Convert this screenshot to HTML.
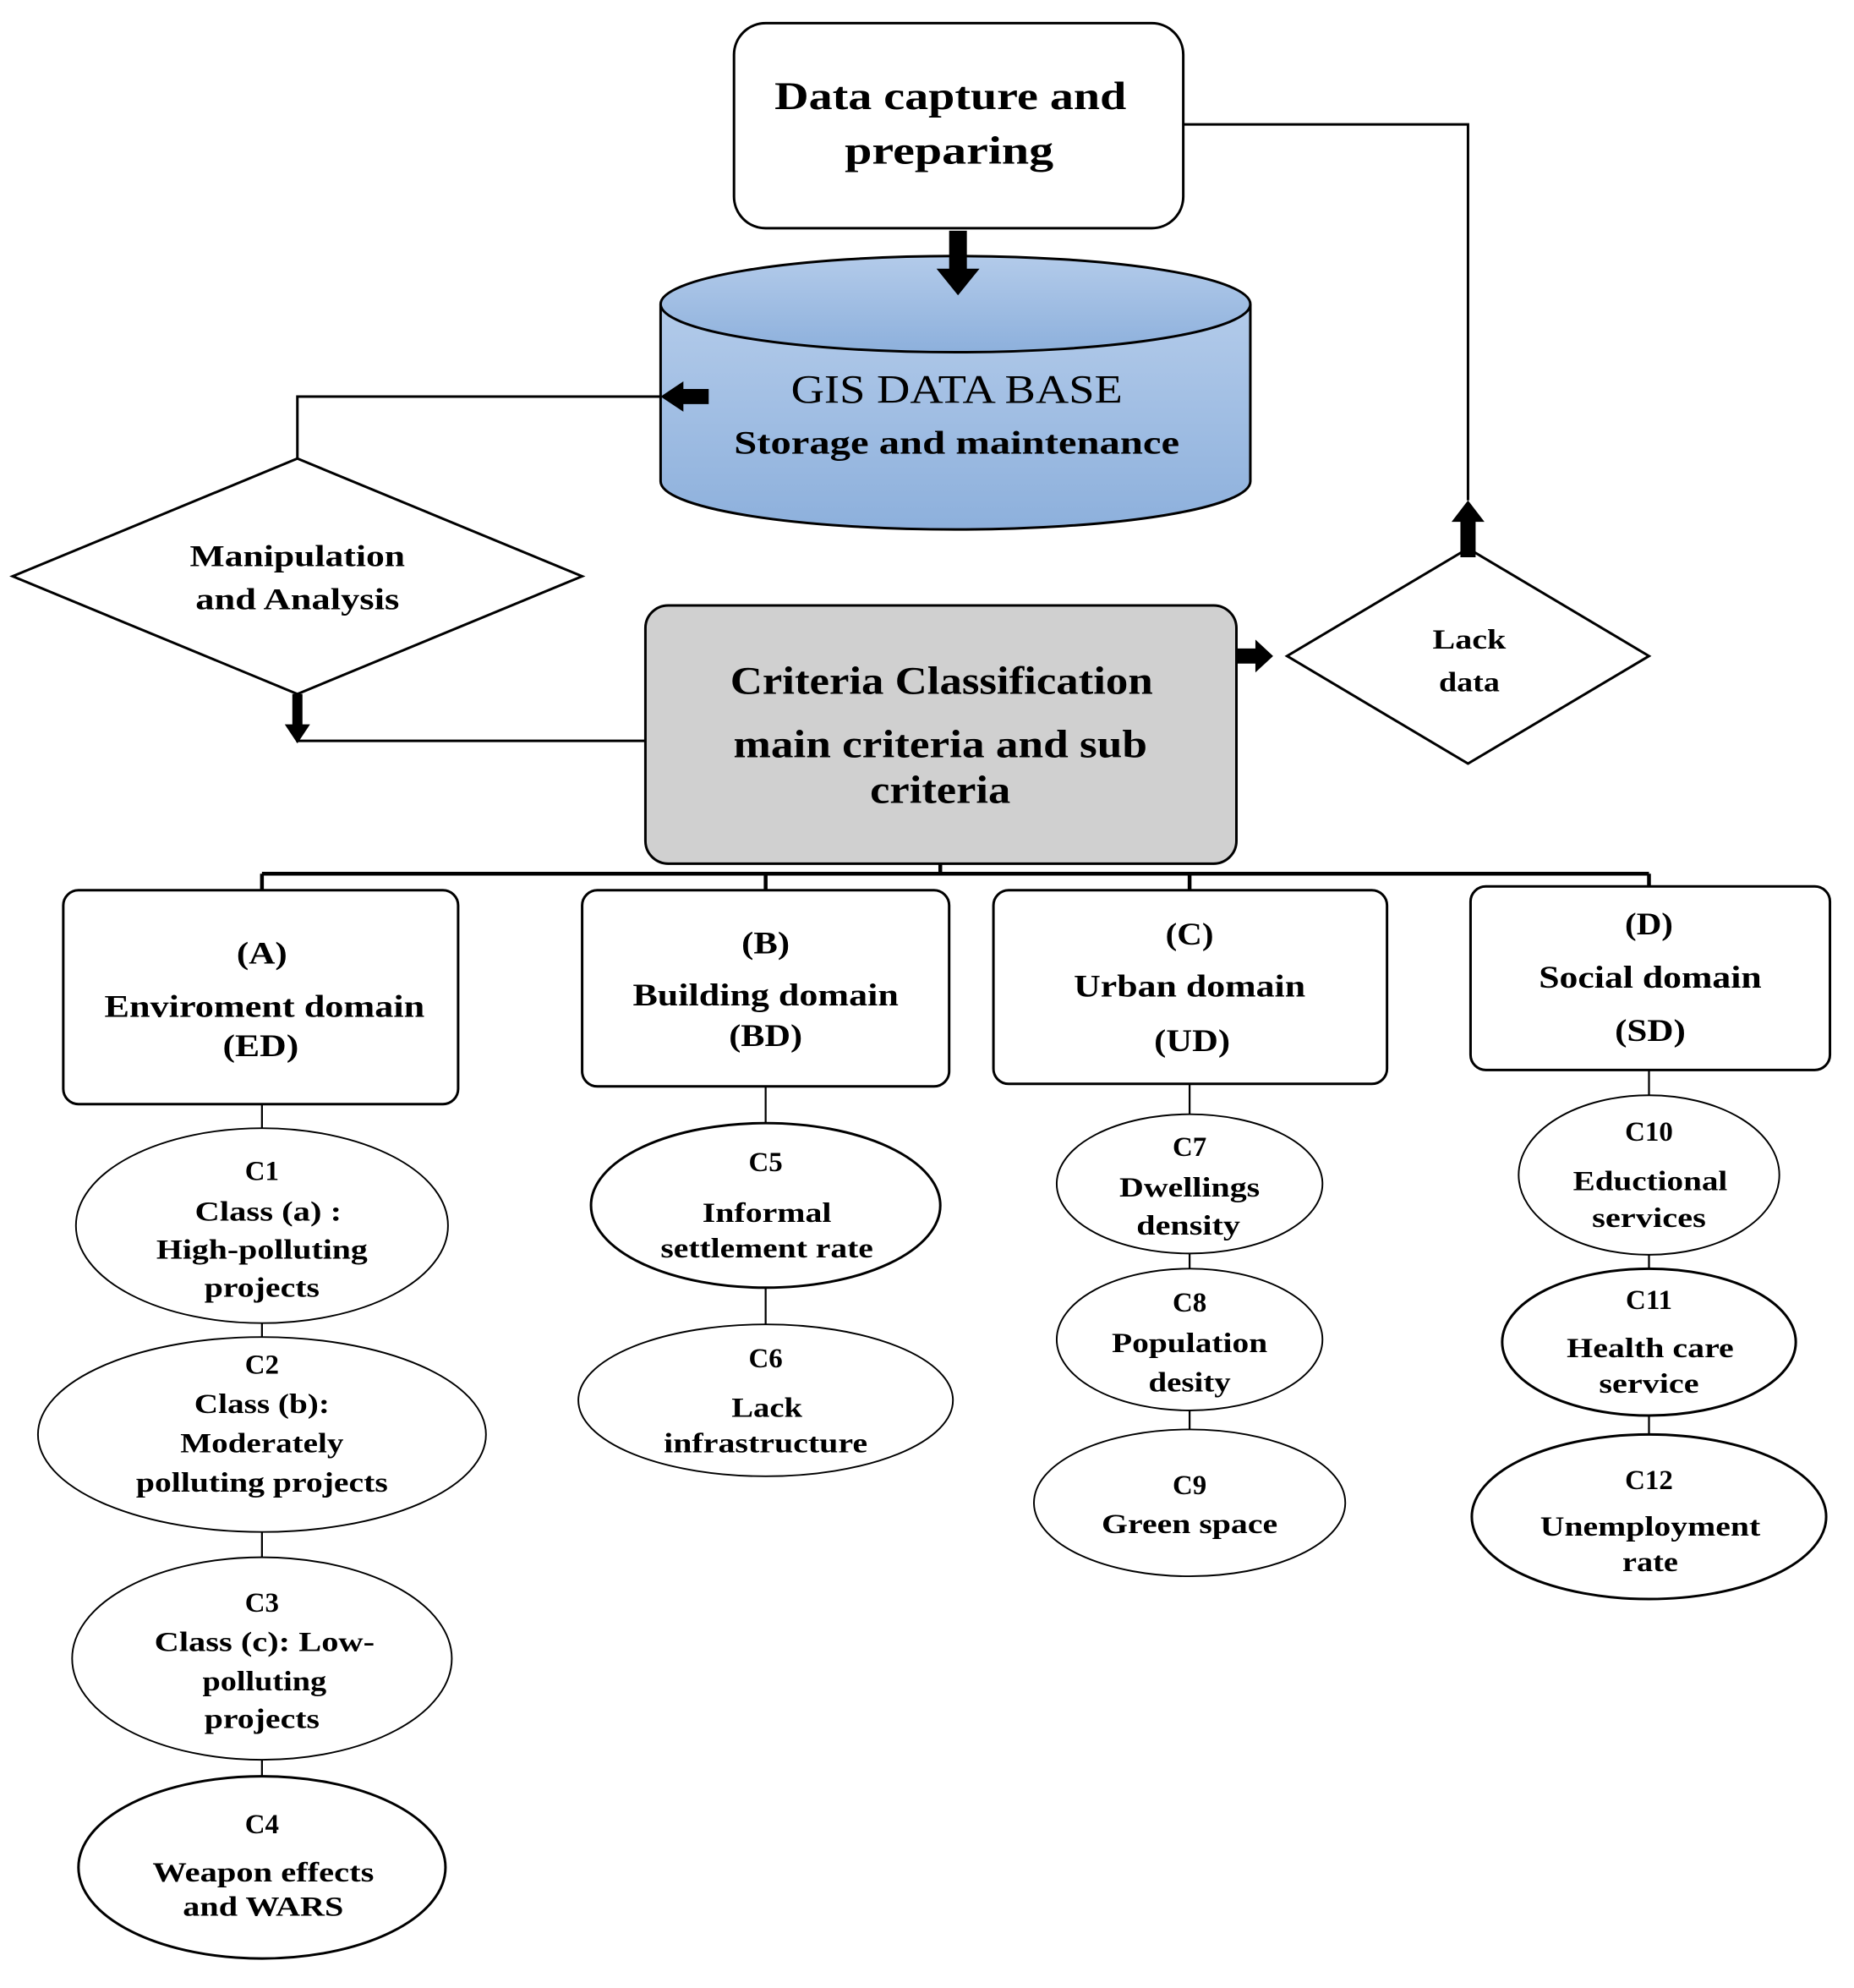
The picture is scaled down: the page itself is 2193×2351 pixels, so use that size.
<!DOCTYPE html>
<html><head><meta charset="utf-8"><style>html,body{margin:0;padding:0;background:#fff}svg{display:block}</style></head>
<body>
<svg width="2193" height="2351" viewBox="0 0 1465 1570" xmlns="http://www.w3.org/2000/svg" font-family="'Liberation Serif',serif" font-weight="bold" text-anchor="middle">
<defs><linearGradient id="g" x1="0" y1="0" x2="0" y2="1"><stop offset="0" stop-color="#b3cbea"/><stop offset="1" stop-color="#8db0dc"/></linearGradient></defs>
<g fill="none" stroke="#000" stroke-width="2">
<rect x="580" y="18" width="355" height="162" rx="25" fill="#fff"/>
<path d="M935 98 H1160 V395"/>
<path d="M522 240 V380 A233 38 0 0 0 988 380 V240" fill="url(#g)"/>
<ellipse cx="755" cy="240" rx="233" ry="38" fill="url(#g)"/>
<path d="M522 313 H235 V362"/>
<polygon points="235,362 460,455 235,548 10,455" fill="#fff"/>
<path d="M235 548 V585 H510"/>
<rect x="510" y="478" width="467" height="204" rx="18" fill="#d0d0d0"/>
<polygon points="1160,433 1303,518 1160,603 1017,518" fill="#fff"/>
<path d="M743 682 V690 M207 690 H1303 M207 690 V703 M605 690 V703 M940 690 V703 M1303 690 V700" stroke-width="3"/>
<rect x="50" y="703" width="312" height="169" rx="12" fill="#fff"/>
<rect x="460" y="703" width="290" height="155" rx="12" fill="#fff"/>
<rect x="785" y="703" width="311" height="153" rx="12" fill="#fff"/>
<rect x="1162" y="700" width="284" height="145" rx="12" fill="#fff"/>
<path d="M207 872 V1410 M605 858 V1050 M940 856 V1135 M1303 845 V1140" stroke-width="1.5"/>
<ellipse cx="207" cy="968" rx="147" ry="77" fill="#fff" stroke-width="1.3"/>
<ellipse cx="207" cy="1133" rx="177" ry="77" fill="#fff" stroke-width="1.3"/>
<ellipse cx="207" cy="1310" rx="150" ry="80" fill="#fff" stroke-width="1.3"/>
<ellipse cx="207" cy="1475" rx="145" ry="72" fill="#fff"/>
<ellipse cx="605" cy="952" rx="138" ry="65" fill="#fff"/>
<ellipse cx="605" cy="1106" rx="148" ry="60" fill="#fff" stroke-width="1.3"/>
<ellipse cx="940" cy="935" rx="105" ry="55" fill="#fff" stroke-width="1.3"/>
<ellipse cx="940" cy="1058" rx="105" ry="56" fill="#fff" stroke-width="1.3"/>
<ellipse cx="940" cy="1187" rx="123" ry="58" fill="#fff" stroke-width="1.3"/>
<ellipse cx="1303" cy="928" rx="103" ry="63" fill="#fff" stroke-width="1.3"/>
<ellipse cx="1303" cy="1060" rx="116" ry="58" fill="#fff"/>
<ellipse cx="1303" cy="1198" rx="140" ry="65" fill="#fff"/>
</g>
<g fill="#000">
<polygon points="750,182 764,182 764,212 774,212 757,233 740,212 750,212"/>
<polygon points="560,307 560,319 540,319 540,325 522,313 540,301 540,307"/>
<polygon points="231,548 239,548 239,572 245,572 235,587 225,572 231,572"/>
<polygon points="977,512 992,512 992,505 1006,518 992,531 992,524 977,524"/>
<polygon points="1154,440 1166,440 1166,412 1173,412 1160,395 1147,412 1154,412"/>
</g>
<g lengthAdjust="spacingAndGlyphs">
<g font-size="31"><text x="751" y="86" textLength="278" lengthAdjust="spacingAndGlyphs">Data capture and</text><text x="750" y="129" textLength="165" lengthAdjust="spacingAndGlyphs">preparing</text></g>
<text x="756" y="318" font-size="32" font-weight="normal" textLength="262" lengthAdjust="spacingAndGlyphs">GIS DATA BASE</text>
<text x="756" y="358" font-size="26" textLength="352" lengthAdjust="spacingAndGlyphs">Storage and maintenance</text>
<g font-size="24"><text x="235" y="447" textLength="170" lengthAdjust="spacingAndGlyphs">Manipulation</text><text x="235" y="481" textLength="161" lengthAdjust="spacingAndGlyphs">and Analysis</text></g>
<g font-size="31"><text x="744" y="548" textLength="334" lengthAdjust="spacingAndGlyphs">Criteria Classification</text><text x="743" y="598" textLength="327" lengthAdjust="spacingAndGlyphs">main criteria and sub</text><text x="743" y="634" textLength="111" lengthAdjust="spacingAndGlyphs">criteria</text></g>
<g font-size="22"><text x="1161" y="512" textLength="58" lengthAdjust="spacingAndGlyphs">Lack</text><text x="1161" y="546" textLength="48" lengthAdjust="spacingAndGlyphs">data</text></g>
<g font-size="25">
<text x="207" y="761" textLength="40" lengthAdjust="spacingAndGlyphs">(A)</text><text x="209" y="803" textLength="253" lengthAdjust="spacingAndGlyphs">Enviroment domain</text><text x="206" y="834" textLength="60" lengthAdjust="spacingAndGlyphs">(ED)</text>
<text x="605" y="753" textLength="38" lengthAdjust="spacingAndGlyphs">(B)</text><text x="605" y="794" textLength="210" lengthAdjust="spacingAndGlyphs">Building domain</text><text x="605" y="826" textLength="58" lengthAdjust="spacingAndGlyphs">(BD)</text>
<text x="940" y="746" textLength="38" lengthAdjust="spacingAndGlyphs">(C)</text><text x="940" y="787" textLength="183" lengthAdjust="spacingAndGlyphs">Urban domain</text><text x="942" y="830" textLength="60" lengthAdjust="spacingAndGlyphs">(UD)</text>
<text x="1303" y="738" textLength="38" lengthAdjust="spacingAndGlyphs">(D)</text><text x="1304" y="780" textLength="176" lengthAdjust="spacingAndGlyphs">Social domain</text><text x="1304" y="822" textLength="56" lengthAdjust="spacingAndGlyphs">(SD)</text>
</g>
<g font-size="22">
<text x="207" y="932">C1</text><text x="212" y="964" textLength="116" lengthAdjust="spacingAndGlyphs">Class (a) :</text><text x="207" y="994" textLength="167" lengthAdjust="spacingAndGlyphs">High-polluting</text><text x="207" y="1024" textLength="91" lengthAdjust="spacingAndGlyphs">projects</text>
<text x="207" y="1085">C2</text><text x="207" y="1116" textLength="107" lengthAdjust="spacingAndGlyphs">Class (b):</text><text x="207" y="1147" textLength="129" lengthAdjust="spacingAndGlyphs">Moderately</text><text x="207" y="1178" textLength="199" lengthAdjust="spacingAndGlyphs">polluting projects</text>
<text x="207" y="1273">C3</text><text x="209" y="1304" textLength="174" lengthAdjust="spacingAndGlyphs">Class (c): Low-</text><text x="209" y="1335" textLength="98" lengthAdjust="spacingAndGlyphs">polluting</text><text x="207" y="1365" textLength="91" lengthAdjust="spacingAndGlyphs">projects</text>
<text x="207" y="1448">C4</text><text x="208" y="1486" textLength="175" lengthAdjust="spacingAndGlyphs">Weapon effects</text><text x="208" y="1513" textLength="127" lengthAdjust="spacingAndGlyphs">and WARS</text>
<text x="605" y="925">C5</text><text x="606" y="965" textLength="102" lengthAdjust="spacingAndGlyphs">Informal</text><text x="606" y="993" textLength="168" lengthAdjust="spacingAndGlyphs">settlement rate</text>
<text x="605" y="1080">C6</text><text x="606" y="1119" textLength="56" lengthAdjust="spacingAndGlyphs">Lack</text><text x="605" y="1147" textLength="161" lengthAdjust="spacingAndGlyphs">infrastructure</text>
<text x="940" y="913">C7</text><text x="940" y="945" textLength="111" lengthAdjust="spacingAndGlyphs">Dwellings</text><text x="939" y="975" textLength="82" lengthAdjust="spacingAndGlyphs">density</text>
<text x="940" y="1036">C8</text><text x="940" y="1068" textLength="123" lengthAdjust="spacingAndGlyphs">Population</text><text x="940" y="1099" textLength="65" lengthAdjust="spacingAndGlyphs">desity</text>
<text x="940" y="1180">C9</text><text x="940" y="1211" textLength="139" lengthAdjust="spacingAndGlyphs">Green space</text>
<text x="1303" y="901">C10</text><text x="1304" y="940" textLength="122" lengthAdjust="spacingAndGlyphs">Eductional</text><text x="1303" y="969" textLength="90" lengthAdjust="spacingAndGlyphs">services</text>
<text x="1303" y="1034">C11</text><text x="1304" y="1072" textLength="132" lengthAdjust="spacingAndGlyphs">Health care</text><text x="1303" y="1100" textLength="79" lengthAdjust="spacingAndGlyphs">service</text>
<text x="1303" y="1176">C12</text><text x="1304" y="1213" textLength="174" lengthAdjust="spacingAndGlyphs">Unemployment</text><text x="1304" y="1241" textLength="44" lengthAdjust="spacingAndGlyphs">rate</text>
</g>
</g>
</svg>
</body></html>
